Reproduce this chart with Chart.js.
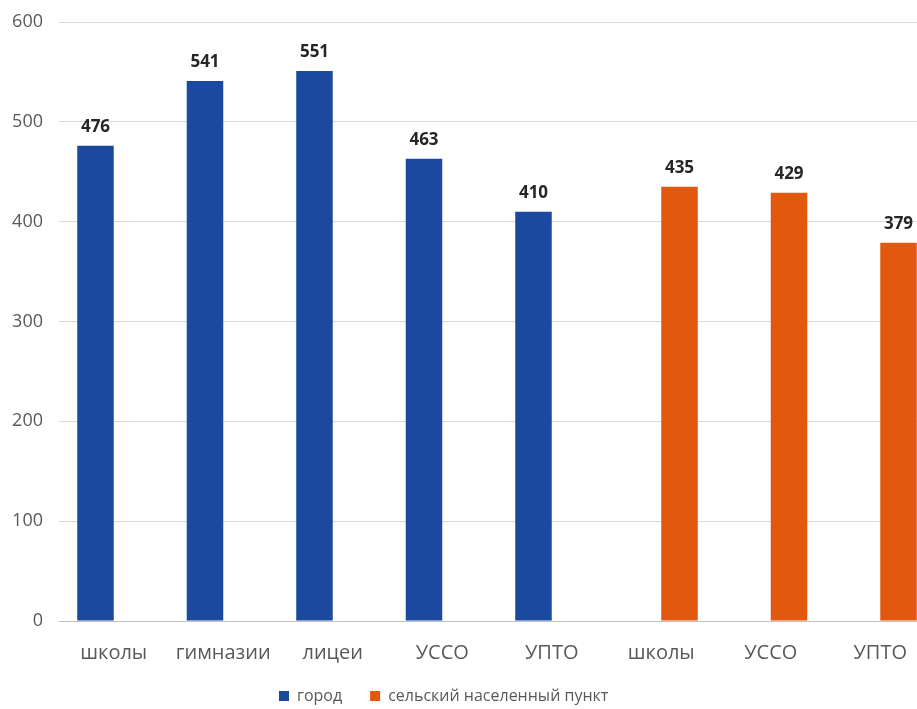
<!DOCTYPE html>
<html>
<head>
<meta charset="utf-8">
<script src="https://cdn.jsdelivr.net/npm/chart.js@4"></script>
<style>
  html, body { margin: 0; padding: 0; background: #fff; overflow: hidden; }
  #wrap { width: 917px; height: 709px; overflow: hidden; }
</style>
</head>
<body>
<div id="wrap"><canvas id="barChart" width="935" height="709"></canvas></div>
<script>
// категории и значения
var categories = ['школы', 'гимназии', 'лицеи', 'УССО', 'УПТО', 'школы', 'УССО', 'УПТО'];
var gorod = [476, 541, 551, 463, 410, null, null, null];
var selo = [null, null, null, null, null, 435, 429, 379];
var seriesNames = ['город', 'сельский населенный пункт'];
var yTicks = [0, 100, 200, 300, 400, 500, 600];

var fontName = "'Open Sans', sans-serif";

// подписи значений над столбцами
var valueLabels = {
    id: 'valueLabels',
    afterDatasetsDraw: function (chart) {
        var ctx = chart.ctx;
        ctx.save();
        ctx.font = 'bold 17px ' + fontName;
        ctx.fillStyle = '#262626';
        ctx.textAlign = 'center';
        ctx.textBaseline = 'alphabetic';
        chart.data.datasets.forEach(function (ds, i) {
            chart.getDatasetMeta(i).data.forEach(function (bar, j) {
                if (ds.data[j] == null) return;
                ctx.fillText(ds.data[j], bar.x, bar.y - 14);
            });
        });
        ctx.restore();
    }
};

// легенда внизу, рисуем сами
var bottomLegend = {
    id: 'bottomLegend',
    afterDraw: function (chart) {
        var ctx = chart.ctx;
        var x = 279, y = 696;
        ctx.save();
        ctx.font = '16px ' + fontName;
        ctx.textBaseline = 'middle';
        ctx.textAlign = 'left';
        chart.data.datasets.forEach(function (ds) {
            ctx.fillStyle = ds.backgroundColor;
            ctx.fillRect(x, y - 5, 10, 10);
            x += 18;
            ctx.fillStyle = '#595959';
            ctx.fillText(ds.label, x, y);
            x += ctx.measureText(ds.label).width + 28;
        });
        ctx.restore();
    }
};

var ctx = document.getElementById('barChart').getContext('2d');
var barChart = new Chart(ctx, {
    type: 'bar',
    data: {
        labels: categories,
        datasets: [{
            label: seriesNames[0],
            data: gorod,
            backgroundColor: '#1c49a0'
        }, {
            label: seriesNames[1],
            data: selo,
            backgroundColor: '#e2580f'
        }]
    },
    options: {
        responsive: false,
        animation: false,
        categoryPercentage: 0.667,
        barPercentage: 1,
        layout: { padding: { top: 22, right: 0, left: 0, bottom: 24 } },
        scales: {
            x: {
                grid: { display: false, drawTicks: false },
                border: { color: '#bfbfbf' },
                ticks: {
                    color: '#595959',
                    padding: 20,
                    maxRotation: 0,
                    autoSkip: false,
                    font: { family: fontName, size: 20 }
                }
            },
            y: {
                min: 0,
                max: 600,
                afterFit: function (scale) {
                    scale.width = 59;
                    scale.paddingTop = 0;
                },
                afterBuildTicks: function (scale) {
                    scale.ticks = yTicks.map(function (v) { return { value: v }; });
                },
                grid: { color: '#d9d9d9', drawTicks: false },
                border: { display: false },
                ticks: {
                    color: '#595959',
                    padding: 16,
                    font: { family: fontName, size: 18 }
                }
            }
        },
        plugins: {
            legend: { display: false },
            tooltip: { enabled: false }
        }
    },
    plugins: [valueLabels, bottomLegend]
});
</script>
</body>
</html>
